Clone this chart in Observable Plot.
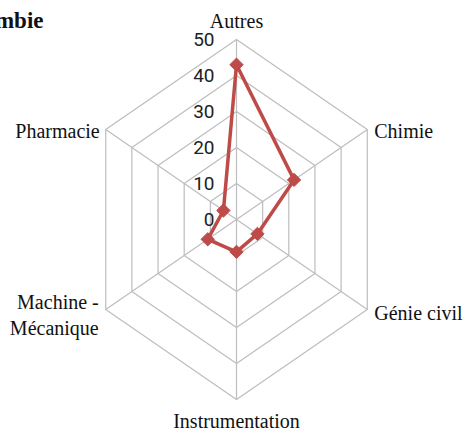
<!DOCTYPE html>
<html>
<head>
<meta charset="utf-8">
<script src="https://cdn.jsdelivr.net/npm/d3@7"></script>
<script src="https://cdn.jsdelivr.net/npm/@observablehq/plot@0.6"></script>
<style>
  html, body { margin: 0; padding: 0; background: #fff; }
  #chart svg { display: block; }
</style>
</head>
<body>
<div id="chart"></div>
<script>
// ---- data ----
const title = "Colombie";
const categories = ["Autres", "Chimie", "Génie civil", "Instrumentation", "Machine -\nMécanique", "Pharmacie"];
const values = [43, 22, 8, 9, 11, 5];
const tickValues = [0, 10, 20, 30, 40, 50];
const maxValue = 50;

// ---- layout (label placement relative to each axis end) ----
const labelLayout = [
  {dx: 0, dy: -20, anchor: "middle"},
  {dx: 7, dy: 0, anchor: "start"},
  {dx: 7, dy: 2, anchor: "start"},
  {dx: 0, dy: 20, anchor: "middle"},
  {dx: -7, dy: 4, anchor: "end"},
  {dx: -6, dy: 0, anchor: "end"}
];

const n = categories.length;
const angle = i => i * 2 * Math.PI / n;
const pos = (i, v) => ({x: (v / maxValue) * Math.sin(angle(i)), y: (v / maxValue) * Math.cos(angle(i))});

const rings = [];
for (const t of tickValues.slice(1)) {
  for (let k = 0; k <= n; k++) rings.push({ring: t, ...pos(k % n, t)});
}
const spokes = categories.map((c, i) => {
  const p = pos(i, maxValue);
  return {x1: 0, y1: 0, x2: p.x, y2: p.y};
});
const series = values.map((v, i) => ({cat: categories[i], v, ...pos(i, v)}));
const seriesClosed = [...series, series[0]];
const labels = categories.map((c, i) => ({text: c, ...pos(i, maxValue), ...labelLayout[i]}));
const tickLabels = tickValues.map(t => ({text: String(t), ...pos(0, t)}));

const chart = Plot.plot({
  width: 465,
  height: 435,
  margin: 0,
  x: {domain: [-1, 1], range: [85, 387], axis: null},
  y: {domain: [-1, 1], range: [399, 39], axis: null},
  marks: [
    Plot.line(rings, {x: "x", y: "y", z: "ring", stroke: "#bdbdbd", strokeWidth: 1.2}),
    Plot.link(spokes, {x1: "x1", y1: "y1", x2: "x2", y2: "y2", stroke: "#bdbdbd", strokeWidth: 1.2}),
    Plot.text(tickLabels, {x: "x", y: "y", text: "text", textAnchor: "end", dx: -22, dy: 0,
      fontFamily: "'Liberation Sans Narrow', Roboto, sans-serif", fontSize: 19, fill: "#222"}),
    Plot.line(seriesClosed, {x: "x", y: "y", stroke: "#be4b48", strokeWidth: 3.5, strokeLinejoin: "round"}),
    Plot.dot(series, {x: "x", y: "y", symbol: "diamond2", r: 6, fill: "#be4b48", stroke: "#be4b48", strokeWidth: 1}),
    ...labels.map(l => Plot.text([l], {x: "x", y: "y", text: "text", dx: l.dx, dy: l.dy, textAnchor: l.anchor,
      lineHeight: 1.3, fontFamily: "'Liberation Serif', 'Times New Roman', serif", fontSize: 20, fill: "#111"})),
    Plot.text([title], {frameAnchor: "top-left", textAnchor: "end", dx: 43, dy: 11,
      fontFamily: "'Liberation Serif', serif", fontWeight: "bold", fontSize: 23, fill: "#111"})
  ]
});
document.getElementById("chart").appendChild(chart);
</script>
</body>
</html>
